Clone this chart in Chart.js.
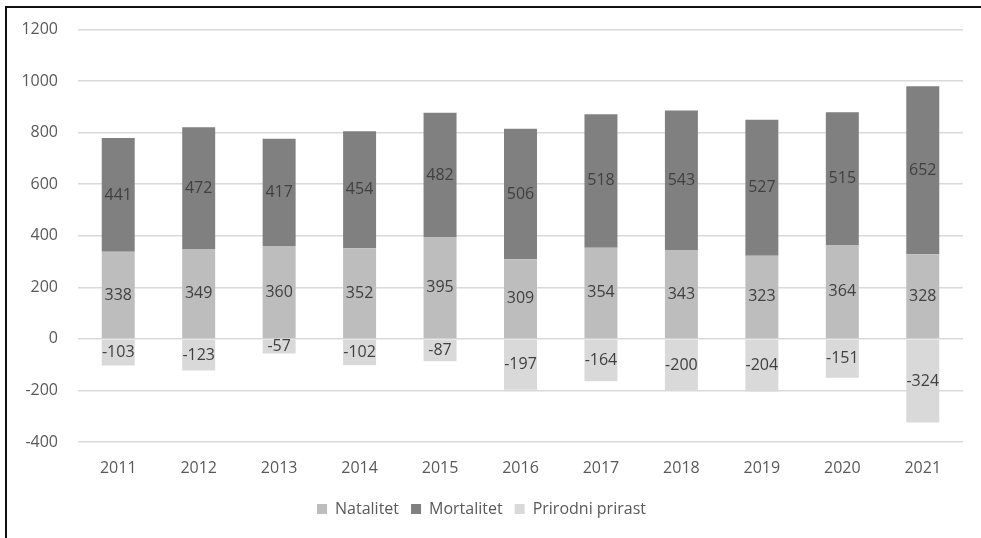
<!DOCTYPE html>
<html>
<head>
<meta charset="utf-8">
<script src="https://cdn.jsdelivr.net/npm/chart.js@4"></script>
<style>
  html, body { margin: 0; padding: 0; background: #fff; }
  #wrap { position: relative; width: 981px; height: 538px; }
  #okvir { position: absolute; left: 5px; top: 6px; right: 0; bottom: 0;
           border-left: 2px solid #111; border-top: 2px solid #111; pointer-events: none; }
</style>
</head>
<body>
<div id="wrap">
  <canvas id="grafik" width="981" height="538"></canvas>
  <div id="okvir"></div>
</div>
<script>
// Podaci
const godine = ['2011', '2012', '2013', '2014', '2015', '2016', '2017', '2018', '2019', '2020', '2021'];
const natalitet = [338, 349, 360, 352, 395, 309, 354, 343, 323, 364, 328];
const mortalitet = [441, 472, 417, 454, 482, 506, 518, 543, 527, 515, 652];
const prirodniPrirast = [-103, -123, -57, -102, -87, -197, -164, -200, -204, -151, -324];

const FONT = "'Open Sans', 'Noto Sans', sans-serif";

// Vrijednosti u sredini svakog segmenta
const oznakePlugin = {
  id: 'oznake',
  afterDatasetsDraw(chart) {
    const ctx = chart.ctx;
    ctx.save();
    ctx.font = '16px ' + FONT;
    ctx.fillStyle = '#404040';
    ctx.textAlign = 'center';
    ctx.textBaseline = 'middle';
    chart.data.datasets.forEach((ds, i) => {
      const meta = chart.getDatasetMeta(i);
      meta.data.forEach((el, j) => {
        const y = (el.y + el.base) / 2;
        ctx.fillText(String(ds.data[j]), el.x, y);
      });
    });
    ctx.restore();
  }
};

new Chart(document.getElementById('grafik'), {
  type: 'bar',
  data: {
    labels: godine,
    datasets: [
      { label: 'Natalitet', data: natalitet, backgroundColor: '#bdbdbd' },
      { label: 'Mortalitet', data: mortalitet, backgroundColor: '#808080' },
      { label: 'Prirodni prirast', data: prirodniPrirast, backgroundColor: '#d9d9d9' }
    ]
  },
  options: {
    responsive: false,
    animation: false,
    layout: { padding: { left: 0, right: 18, top: 25, bottom: 11 } },
    datasets: { bar: { barPercentage: 1, categoryPercentage: 0.41 } },
    scales: {
      x: {
        stacked: true,
        grid: { display: false, drawTicks: false },
        border: { display: false },
        ticks: { color: '#595959', font: { family: FONT, size: 16 }, padding: 17 },
        afterFit: s => { s.height = 47; }
      },
      y: {
        stacked: true,
        min: -400,
        max: 1200,
        grid: { color: '#d9d9d9', lineWidth: 1.5, drawTicks: false },
        border: { display: false },
        ticks: {
          stepSize: 200,
          color: '#595959',
          font: { family: FONT, size: 16 },
          padding: 20,
          callback: v => String(v)
        },
        afterFit: s => { s.width = 78; }
      }
    },
    plugins: {
      legend: {
        position: 'bottom',
        labels: {
          color: '#595959',
          font: { family: FONT, size: 16 },
          boxWidth: 10,
          boxHeight: 10,
          padding: 12
        }
      },
      tooltip: { enabled: false }
    }
  },
  plugins: [oznakePlugin]
});
</script>
</body>
</html>
